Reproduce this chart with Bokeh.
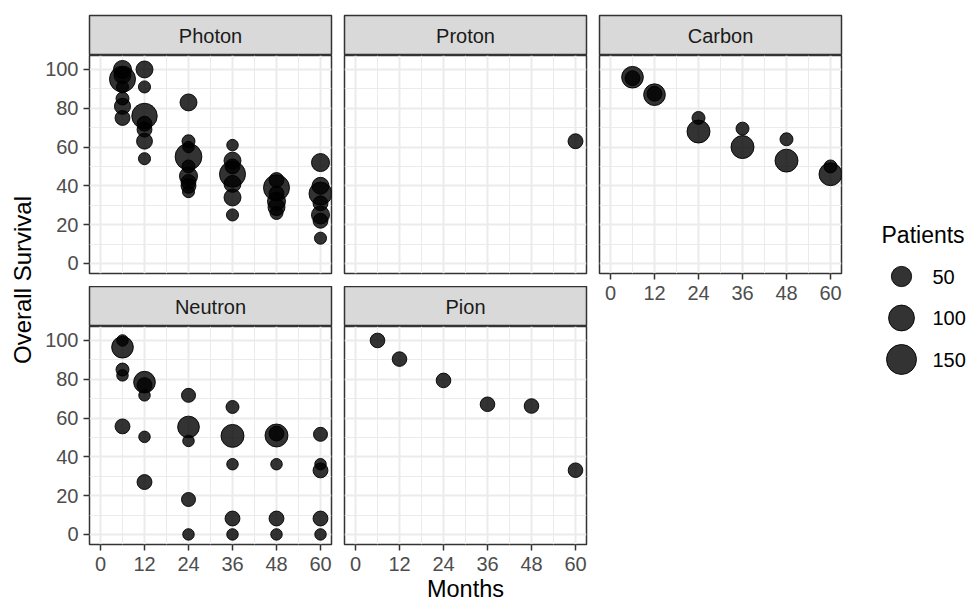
import math
from bokeh.plotting import figure
from bokeh.layouts import row, column
from bokeh.models import ColumnDataSource, FixedTicker, Grid, LinearAxis, Range1d, Spacer
from bokeh.core.properties import value
from bokeh.embed import file_html
from bokeh.resources import INLINE

# ------------------------------------------------------------------ data
facet_labels = ["Photon", "Proton", "Carbon", "Neutron", "Pion"]

photon_months = [6, 6, 6, 6, 6, 6, 6,
                 12, 12, 12, 12, 12, 12, 12,
                 24, 24, 24, 24, 24, 24, 24, 24, 24,
                 36, 36, 36, 36, 36, 36, 36,
                 48, 48, 48, 48, 48, 48,
                 60, 60, 60, 60, 60, 60, 60]
photon_os = [100, 97, 95, 91, 85, 81, 75,
             100, 91, 76, 72, 69, 63, 54,
             83, 63, 60, 55, 50, 45, 42, 40, 37,
             61, 53, 50, 46, 41, 34, 25,
             43, 39, 36, 32, 29, 26,
             52, 40, 36, 31, 25, 22, 13]
photon_patients = [36, 30, 102, 13, 15, 26, 21,
                   30, 13, 96, 21, 21, 25, 13,
                   30, 15, 12, 110, 15, 36, 21, 21, 13,
                   12, 30, 21, 102, 30, 30, 13,
                   21, 102, 21, 36, 30, 15,
                   36, 30, 72, 21, 36, 21, 13]

proton_months = [60]
proton_os = [63]
proton_patients = [21]

carbon_months = [6, 6, 12, 12, 24, 24, 36, 36, 48, 48, 60, 60]
carbon_os = [96, 95.5, 87, 87.5, 75, 68, 69.5, 60, 64, 53, 50, 46]
carbon_patients = [61, 21, 61, 21, 15, 72, 15, 72, 15, 72, 15, 72]

neutron_months = [6, 6, 6, 6, 6,
                  12, 12, 12, 12, 12,
                  24, 24, 24, 24, 24,
                  36, 36, 36, 36, 36,
                  48, 48, 48, 48, 48,
                  60, 60, 60, 60, 60]
neutron_os = [100, 96.5, 85, 82, 55.7,
              78.5, 77, 71.7, 50.3, 27,
              71.7, 55.4, 48.2, 18, 0,
              65.7, 50.8, 36.2, 8.2, 0,
              51, 52, 36.2, 8.2, 0,
              51.6, 36.2, 33, 8.2, 0]
neutron_patients = [12, 61, 15, 12, 21,
                    61, 21, 12, 12, 21,
                    18, 61, 12, 18, 12,
                    15, 72, 12, 21, 12,
                    72, 21, 12, 21, 12,
                    18, 12, 21, 21, 12]

pion_months = [6, 12, 24, 36, 48, 60]
pion_os = [100, 90.4, 79.4, 67.1, 66.2, 33.1]
pion_patients = [20, 20, 20, 20, 20, 20]

month_ticks = [0, 12, 24, 36, 48, 60]
month_minor = [6, 18, 30, 42, 54]
os_ticks = [0, 20, 40, 60, 80, 100]
os_minor = [10, 30, 50, 70, 90]

legend_title = "Patients"
legend_breaks = [50, 100, 150]
x_title = "Months"
y_title = "Overall Survival"

# ------------------------------------------------------------------ style
FONT = "Liberation Sans"
PAGE_W, PAGE_H = 968, 601
FW, FH, SH = 242, 218, 40          # panel frame width/height, strip height
TOP, GAP, XAX = 15, 13, 36         # top margin, row gap, x-axis band (row 1)
YT_W, LEFT1, LEFTN, RIGHT = 38, 51, 11, 2
PANELS_BOTTOM = TOP + SH + FH + GAP + SH + FH
XAX2 = PAGE_H - PANELS_BOTTOM      # bottom band incl. x title
TOTAL_H = PAGE_H
X_RANGE = (-3, 63)
Y_RANGE = (-5.2, 107.2)
BORDER = "#333333"
GRID = "#ebebeb"


def size_px(n):
    # area-like size scale (ggplot scale_size look)
    return 9 + 1.775 * math.sqrt(max(n - 10, 0))


def base_fig(**kw):
    f = figure(toolbar_location=None, output_backend="svg",
               x_axis_location=None, y_axis_location=None, **kw)
    f.grid.visible = False
    return f


def strip(label, left, top):
    s = base_fig(frame_width=FW, frame_height=SH,
                 x_range=Range1d(0, 1), y_range=Range1d(0, 1),
                 min_border_left=left, min_border_right=RIGHT,
                 min_border_top=top, min_border_bottom=0,
                 background_fill_color="#d9d9d9", border_fill_color="white",
                 outline_line_color=BORDER, outline_line_width=1.5)
    s.text(x=[0.5], y=[0.5], text=[label], text_align="center",
           text_baseline="middle", text_font=value(FONT),
           text_font_size="20px", text_color="#1a1a1a")
    return s


def panel(months, os_, patients, left, bottom, show_y, show_x, xlabel=None):
    p = base_fig(frame_width=FW, frame_height=FH,
                 x_range=Range1d(*X_RANGE), y_range=Range1d(*Y_RANGE),
                 min_border_left=left, min_border_right=RIGHT,
                 min_border_top=0, min_border_bottom=bottom,
                 background_fill_color="white", border_fill_color="white",
                 outline_line_color=BORDER, outline_line_width=1.5)
    xt = FixedTicker(ticks=month_ticks, minor_ticks=month_minor)
    yt = FixedTicker(ticks=os_ticks, minor_ticks=os_minor)
    for dim, t in ((0, xt), (1, yt)):
        p.add_layout(Grid(dimension=dim, ticker=t,
                          grid_line_color=GRID, grid_line_width=2,
                          minor_grid_line_color=GRID, minor_grid_line_width=1))
    axis_style = dict(major_tick_in=0, major_tick_out=6,
                      minor_tick_in=0, minor_tick_out=0,
                      major_tick_line_color=BORDER, major_tick_line_width=1.5,
                      axis_line_color=None,
                      major_label_text_font=FONT,
                      major_label_text_font_size="20px",
                      major_label_text_color="#4d4d4d")
    if show_y:
        p.add_layout(LinearAxis(ticker=FixedTicker(ticks=os_ticks),
                                major_label_standoff=5, **axis_style), "left")
    if show_x:
        ax = LinearAxis(ticker=FixedTicker(ticks=month_ticks),
                        major_label_standoff=6, **axis_style)
        if xlabel:
            ax.axis_label = xlabel
            ax.axis_label_standoff = 2
            ax.axis_label_text_font = FONT
            ax.axis_label_text_font_size = "23.5px"
            ax.axis_label_text_font_style = "normal"
            ax.axis_label_text_color = "black"
        p.add_layout(ax, "below")
    src = ColumnDataSource(dict(x=months, y=os_,
                                s=[size_px(n) for n in patients]))
    p.scatter("x", "y", size="s", source=src, fill_color="black",
              fill_alpha=0.8, line_color="black", line_alpha=0.9,
              line_width=1)
    return p


col1 = column(
    strip(facet_labels[0], LEFT1, TOP),
    panel(photon_months, photon_os, photon_patients, LEFT1, GAP, True, False),
    strip(facet_labels[3], LEFT1, 0),
    panel(neutron_months, neutron_os, neutron_patients, LEFT1, XAX2, True, True),
)
col2 = column(
    strip(facet_labels[1], LEFTN, TOP),
    panel(proton_months, proton_os, proton_patients, LEFTN, GAP, False, False),
    strip(facet_labels[4], LEFTN, 0),
    # the Pion panel sits at the centre of the panel grid, so the shared
    # x title is carried by its axis
    panel(pion_months, pion_os, pion_patients, LEFTN, XAX2, False, True,
          xlabel=x_title),
)
col3 = column(
    strip(facet_labels[2], LEFTN, TOP),
    panel(carbon_months, carbon_os, carbon_patients, LEFTN, XAX, False, True),
    Spacer(width=LEFTN + FW + RIGHT, height=TOTAL_H - (TOP + SH + FH + XAX)),
)

# y-axis title
yt_fig = base_fig(frame_width=YT_W, frame_height=TOTAL_H,
                  x_range=Range1d(0, YT_W), y_range=Range1d(TOTAL_H, 0),
                  min_border_left=0, min_border_right=0,
                  min_border_top=0, min_border_bottom=0,
                  outline_line_color=None, background_fill_color="white",
                  border_fill_color="white")
panel_mid = (TOP + PANELS_BOTTOM) / 2
yt_fig.text(x=[22], y=[panel_mid], text=[y_title], angle=math.pi / 2,
            text_align="center", text_baseline="middle",
            text_font=value(FONT), text_font_size="24px", text_color="black")

# legend
LG_W = PAGE_W - YT_W - (LEFT1 + FW + RIGHT) - 2 * (LEFTN + FW + RIGHT)
lg = base_fig(frame_width=LG_W, frame_height=TOTAL_H,
              x_range=Range1d(0, LG_W), y_range=Range1d(TOTAL_H, 0),
              min_border_left=0, min_border_right=0,
              min_border_top=0, min_border_bottom=0,
              outline_line_color=None, background_fill_color="white",
              border_fill_color="white")
lg.text(x=[38], y=[234], text=[legend_title], text_align="left",
        text_baseline="middle", text_font=value(FONT),
        text_font_size="23px", text_color="black")
key_y = [276 + 41.5 * i for i in range(len(legend_breaks))]
lg.scatter(x=[58] * len(legend_breaks), y=key_y,
           size=[size_px(n) for n in legend_breaks],
           fill_color="black", fill_alpha=0.8, line_color="black",
           line_alpha=0.9, line_width=1)
lg.text(x=[89] * len(legend_breaks), y=key_y,
        text=[str(b) for b in legend_breaks], text_align="left",
        text_baseline="middle", text_font=value(FONT),
        text_font_size="20px", text_color="black")

layout = row(yt_fig, col1, col2, col3, lg)

open("out.html", "w").write(file_html(layout, INLINE))
